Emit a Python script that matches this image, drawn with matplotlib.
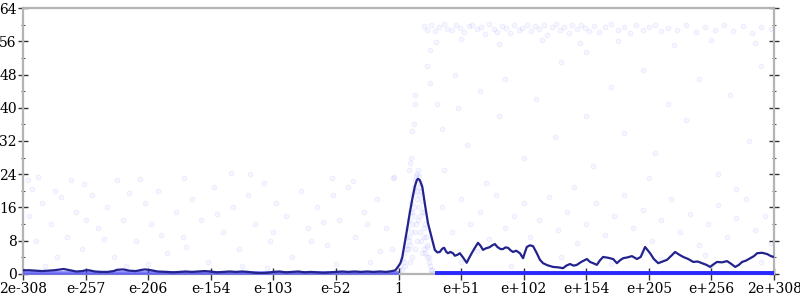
import matplotlib.pyplot as plt
import numpy as np

plt.rc('font', family='DejaVu Serif', size=10)

# x runs over 12 equal exponent intervals from 2e-308 to 2e+308
tick_labels = ['2e-308', 'e-257', 'e-206', 'e-154', 'e-103', 'e-52', '1',
               'e+51', 'e+102', 'e+154', 'e+205', 'e+256', '2e+308']

# smoothed average (dark line)
line_x = [0.0, 0.1, 0.2, 0.3, 0.4, 0.5, 0.6, 0.65, 0.75, 0.85, 0.95, 1.0, 1.05, 1.15,
          1.25, 1.35, 1.45, 1.5, 1.6, 1.7, 1.8, 1.9, 1.95, 2.05, 2.15, 2.3, 2.4, 2.5,
          2.6, 2.7, 2.8, 2.9, 3.0, 3.1, 3.2, 3.3, 3.4, 3.5, 3.6, 3.7, 3.8, 3.9, 4.0,
          4.1, 4.2, 4.3, 4.4, 4.5, 4.6, 4.7, 4.8, 4.9, 5.0, 5.1, 5.2, 5.3, 5.4, 5.5,
          5.6, 5.7, 5.8, 5.9, 5.95, 5.99, 6.03, 6.06, 6.10, 6.14, 6.18, 6.22, 6.26,
          6.29, 6.31, 6.34, 6.38, 6.42, 6.47, 6.54, 6.58, 6.62, 6.66, 6.70, 6.73,
          6.76, 6.79, 6.83, 6.87, 6.90, 6.94, 6.98, 7.03, 7.09, 7.13, 7.17, 7.22,
          7.27, 7.31, 7.35, 7.40, 7.45, 7.50, 7.54, 7.58, 7.63, 7.67, 7.71, 7.75,
          7.79, 7.83, 7.88, 7.94, 7.99, 8.02, 8.05, 8.10, 8.15, 8.21, 8.26, 8.31,
          8.38, 8.47, 8.55, 8.63, 8.68, 8.74, 8.80, 8.85, 8.92, 9.01, 9.06, 9.11,
          9.17, 9.22, 9.27, 9.35, 9.43, 9.49, 9.54, 9.59, 9.66, 9.73, 9.81, 9.87,
          9.94, 10.02, 10.08, 10.15, 10.22, 10.29, 10.36, 10.42, 10.48, 10.55,
          10.63, 10.71, 10.78, 10.85, 10.92, 10.98, 11.04, 11.09, 11.17, 11.25,
          11.31, 11.38, 11.44, 11.49, 11.55, 11.62, 11.68, 11.73, 11.81, 11.89,
          11.95, 12.0]
line_y = [0.9, 0.9, 0.8, 0.7, 0.8, 0.9, 1.1, 1.2, 0.9, 0.6, 0.7, 0.9, 0.9, 0.6,
          0.5, 0.5, 0.7, 1.0, 1.1, 0.8, 0.7, 1.0, 1.1, 0.9, 0.6, 0.5, 0.4, 0.5,
          0.6, 0.5, 0.6, 0.7, 0.6, 0.4, 0.5, 0.6, 0.5, 0.6, 0.5, 0.3, 0.2, 0.3, 0.5,
          0.6, 0.4, 0.5, 0.6, 0.4, 0.5, 0.4, 0.3, 0.4, 0.5, 0.6, 0.5, 0.6, 0.5, 0.6,
          0.5, 0.6, 0.5, 0.7, 0.9, 1.7, 2.6, 4.0, 7.5, 11.0, 14.7, 18.0, 21.0,
          22.5, 22.9, 22.6, 21.0, 17.0, 12.3, 8.2, 5.8, 5.2, 5.3, 6.1, 6.3,
          5.4, 5.0, 5.3, 5.0, 4.4, 4.6, 5.0, 4.0, 2.7, 3.9, 5.0, 6.3,
          7.5, 6.8, 5.8, 6.2, 6.4, 6.9, 7.2, 6.5, 6.0, 6.0, 6.4, 6.3,
          5.7, 5.3, 5.6, 5.0, 3.8, 5.2, 6.5, 6.9, 6.7, 5.0, 3.4, 2.6,
          2.1, 1.7, 1.6, 1.4, 2.0, 2.4, 2.0, 2.2, 2.9, 3.6, 2.9, 2.6,
          2.2, 3.3, 4.1, 3.9, 3.6, 2.6, 3.3, 3.8, 4.0, 4.3, 3.6, 4.1,
          6.5, 5.0, 3.6, 2.6, 3.0, 3.4, 4.4, 5.3, 4.7, 4.1,
          3.6, 2.9, 3.0, 2.6, 2.2, 1.7, 2.4, 2.9, 2.8, 3.1,
          2.5, 1.7, 2.2, 2.9, 3.2, 3.8, 4.3, 5.0, 5.1, 4.8,
          4.3, 4.1]

# individual samples (faint dots)
dot_x = [0.08, 0.24, 0.14, 0.51, 0.77, 0.97, 1.5, 1.87, 2.57, 3.33, 3.63, 4.93, 5.93, 5.28,
         0.1, 0.3, 0.45, 0.6, 0.7, 0.85, 0.95, 1.1, 1.2, 1.35, 1.45, 1.6, 1.7, 1.8, 1.95,
         2.05, 2.15, 2.3, 2.45, 2.55, 2.7, 2.85, 2.95, 3.05, 3.2, 3.35, 3.45, 3.6, 3.7,
         3.85, 3.95, 4.05, 4.2, 4.3, 4.45, 4.55, 4.7, 4.85, 4.95, 5.05, 5.2, 5.3, 5.45,
         5.55, 5.65, 5.8, 5.9,
         0.2, 0.55, 1.0, 1.3, 2.0, 2.6, 3.1, 3.5, 4.0, 4.6, 5.0, 5.5, 0.35, 1.65, 2.2,
         3.9, 4.8, 5.7,
         6.00, 6.03, 6.06, 6.08, 6.10, 6.12, 6.14, 6.16, 6.18, 6.20, 6.22, 6.24, 6.26,
         6.28, 6.30, 6.32, 6.34, 6.36, 6.38, 6.40, 6.42, 6.44, 6.46, 6.48, 6.50, 6.52,
         6.54, 6.15, 6.2, 6.25, 6.3, 6.35, 6.4, 6.45, 6.22, 6.3, 6.38, 6.28, 6.33, 6.18,
         6.05, 6.09, 6.13, 6.17, 6.21, 6.25, 6.29, 6.33, 6.37, 6.41, 6.45, 6.49, 6.53,
         6.11, 6.19, 6.27, 6.35, 6.43, 6.24, 6.32, 6.26, 6.31, 6.36, 6.21, 6.16, 6.4,
         6.22, 6.24, 6.26, 6.26, 6.62, 6.2, 6.19, 6.17, 6.31, 6.72, 5.91,
         6.40, 6.45, 6.52, 6.58, 6.65, 6.72, 6.78, 6.85, 6.92, 6.98, 7.05, 7.12, 7.18,
         7.25, 7.32, 7.38, 7.45, 7.52, 7.58, 7.65, 7.72, 7.78, 7.85, 7.92, 7.98, 8.05,
         8.12, 8.18, 8.25, 8.32, 8.38, 8.45, 8.52, 8.58, 8.65, 8.72, 8.78, 8.85, 8.92,
         8.98, 9.05, 9.12, 9.2, 9.3, 9.4, 9.5, 9.6, 9.7, 9.8, 9.9, 10.0, 10.1, 10.2,
         10.3, 10.45, 10.6, 10.75, 10.9, 11.05, 11.2, 11.35, 11.5, 11.65, 11.8, 11.95,
         6.6, 7.0, 7.6, 8.3, 8.9, 9.5, 10.4, 11.0, 11.7, 6.5, 9.0,
         6.45, 6.5, 6.9, 7.3, 7.7, 8.2, 8.6, 9.0, 9.4, 9.9, 10.3, 10.8, 11.3, 11.8,
         6.7, 7.1, 7.6, 8.0, 8.5, 9.1, 9.6, 10.1, 10.6, 11.1, 11.6, 7.4, 8.8, 10.0,
         11.4, 6.95,
         6.7, 6.85, 7.0, 7.15, 7.3, 7.45, 7.55, 7.7, 7.85, 8.0, 8.1, 8.25, 8.4, 8.55,
         8.7, 8.85, 9.0, 9.15, 9.3, 9.45, 9.6, 9.75, 9.9, 10.05, 10.2, 10.35, 10.5,
         10.65, 10.8, 10.95, 11.1, 11.25, 11.4, 11.55, 11.7, 11.85, 11.95, 7.0, 7.8,
         8.6, 9.4, 10.2, 11.0, 11.8, 7.25, 9.9, 10.9]
dot_y = [22.6, 23.4, 20.4, 20.0, 22.6, 21.6, 22.6, 22.8, 23.2, 24.2, 24.1, 23.2, 23.4, 22.4,
         14, 17, 12, 18.5, 9, 15, 6, 19, 11, 16, 4, 13, 19.5, 8, 17,
         12, 20, 5, 15, 9, 18, 13, 3, 21, 10, 16, 6, 19, 12,
         22, 8, 17, 14, 4, 20, 11, 16, 7, 19, 13, 21, 9, 15,
         3, 18, 11, 6,
         8, 4, 13, 8.5, 2.5, 6.5, 14.5, 2, 10, 8, 2.5, 12, 2, 2, 9.5,
         1.5, 12.5, 5.5,
         1, 2, 3.5, 5, 7, 9, 11, 13, 15, 17, 19, 21, 22.5,
         23.5, 24, 23.5, 22, 20, 17.5, 15, 12, 9, 6.5, 4, 2, 1,
         0.3, 6, 10, 14, 18, 14, 9, 4, 4, 8, 5, 12, 16, 3,
         1, 3, 6, 9, 12, 16, 20, 19, 15, 11, 7, 3, 1,
         2, 7, 10, 10, 5, 20, 21, 6, 13, 8, 15, 8, 6,
         34.4, 36, 41, 43, 41, 28, 26.7, 25, 25, 25, 23,
         59.6, 58.8, 59.8, 58.4, 59.5, 60.1, 59.0, 58.6, 59.8, 59.2, 58.3, 59.6, 60.0,
         58.9, 59.4, 57.8, 60.2, 59.0, 58.2, 59.7, 59.1, 58.0, 59.9, 58.7, 59.3, 60.0,
         58.4, 59.6, 58.9, 59.9, 57.6, 59.4, 60.2, 58.8, 59.5, 58.1, 59.8, 58.9, 60.0,
         59.2, 58.5, 59.7, 58.2, 59.5, 60.1, 58.7, 59.4, 57.9, 59.8, 58.6, 59.5, 60.0, 58.4,
         59.3, 58.8, 59.9, 58.3, 59.5, 58.7, 59.9, 58.5, 59.6, 58.1, 59.4, 58.9,
         55.8, 56.5, 55.4, 56.2, 55.6, 56.0, 55.2, 56.4, 55.7, 54, 53.5,
         50, 46, 48, 44, 47, 42, 51, 38, 45, 49, 41, 47, 43, 50,
         35, 31, 38, 28, 33, 26, 34, 29, 37, 24, 32, 22, 21, 23,
         20.5, 40,
         16, 10, 18, 12, 15, 8.5, 19, 11, 14, 17, 9, 13, 18.5, 10.5,
         15, 7.5, 12, 17, 9.5, 14, 19, 11, 15.5, 8, 13, 18, 10,
         14.5, 7, 12, 16.5, 9, 13.5, 18, 10.5, 14, 7.5, 3, 2,
         4, 2.5, 3.5, 2, 3, 5.5, 5, 4.5]

# dense rows of samples sitting on the floor
floor_left_x = [0.0, 6.0]
floor_left_y = [0.35, 0.35]
floor_right_x = [6.58, 12.0]
floor_right_y = [0.3, 0.3]

fig = plt.figure(figsize=(8, 3), dpi=100)
ax = fig.add_axes([0.02875, 0.0867, 0.93875, 0.8866])

ax.plot(floor_left_x, floor_left_y, color='#4646ff', alpha=0.7, lw=2.6,
        solid_capstyle='butt', zorder=3, clip_on=False)
ax.plot(floor_right_x, floor_right_y, color='#2828ff', lw=2.8,
        solid_capstyle='butt', zorder=3, clip_on=False)
ax.scatter(dot_x, dot_y, s=12, facecolor=(0.35, 0.35, 1.0, 0.05),
           edgecolor=(0.35, 0.35, 1.0, 0.09), linewidth=0.6)
ax.plot(line_x, line_y, color='#23238e', lw=1.6, zorder=4)

ax.set_xlim(0, 12)
ax.set_ylim(0, 64)
ax.set_xticks(np.arange(13))
ax.set_xticklabels(tick_labels)
ax.set_yticks(np.arange(0, 65, 8))
ax.set_yticks(np.arange(4, 64, 8), minor=True)

for side in ['left', 'right', 'top', 'bottom']:
    ax.spines[side].set_color('#b4b4b4')
    ax.spines[side].set_linewidth(1.6)

ax.tick_params(axis='y', which='major', direction='inout', length=7, width=1,
               color='#333333', right=True, pad=1)
ax.tick_params(axis='y', which='minor', direction='inout', length=3.5, width=0.8,
               color='#555555', right=True)
ax.tick_params(axis='x', which='major', direction='inout', length=8, width=1,
               color='#333333', pad=2)

plt.savefig('out.png', dpi=100)
